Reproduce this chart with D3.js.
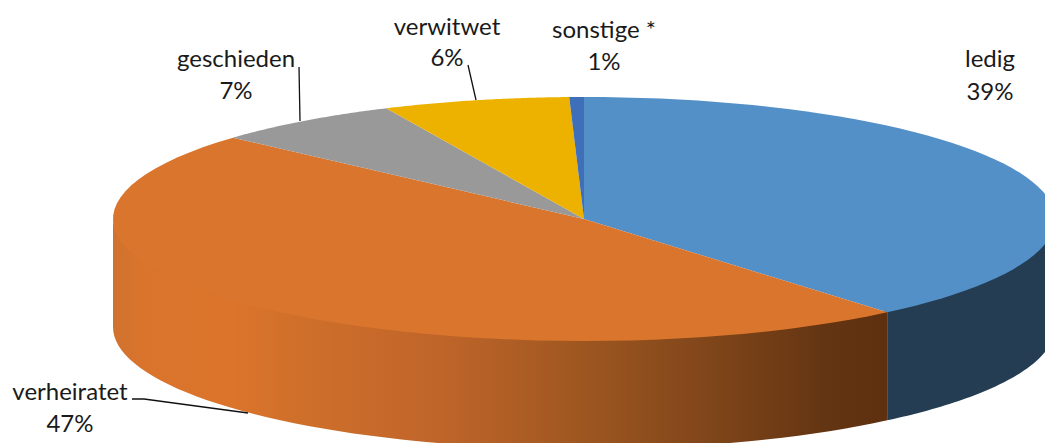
<!DOCTYPE html>
<html><head><meta charset="utf-8">
<script src="https://cdnjs.cloudflare.com/ajax/libs/d3/7.8.5/d3.min.js"></script>
<style>html,body{margin:0;padding:0;background:#fff;overflow:hidden}svg{display:block}text{font-family:Lato,sans-serif;font-size:24px;fill:#1a1a1a}</style>
</head><body><svg id="c" width="1045" height="443"></svg>
<script>
const categories=["ledig","verheiratet","geschieden","verwitwet","sonstige *"];
const shares=[38.87,47.75,6.48,6.4,0.5];
const percentLabels=["39%","47%","7%","6%","1%"];
const topColors=["#5490c8","#da752d","#999999","#edb200","#3f6fb8"];
const wallColors=["#243d53","url(#wall)","#666","#8a6a00","#263f6e"];
const wallStops=[[113,"#d0722f"],[145,"#da742c"],[235,"#dc742b"],[290,"#d0702a"],[436,"#c0652a"],[554,"#a55a22"],[707,"#80461a"],[824,"#643512"],[887,"#5e300f"]];
const labelLayout=[
 {x:990,y:[67,100]},{x:70,y:[400,432]},{x:236,y:[67,99]},{x:447,y:[35,66]},{x:604,y:[38,70]}];
const leaders=[
 null,
 [[132,399],[144,399],[248,413]],
 [[299,67],[300,121]],
 [[468,65],[476,100]],
 null];
const cx=584,cy=219,rx=471,ry=122,depth=108,overlap=1.5;
const svg=d3.select("#c");
const defs=svg.append("defs");
const x0=wallStops[0][0],x1=wallStops[wallStops.length-1][0];
const g=defs.append("linearGradient").attr("id","wall").attr("gradientUnits","userSpaceOnUse")
 .attr("x1",x0).attr("x2",x1).attr("y1",0).attr("y2",0);
g.selectAll("stop").data(wallStops).join("stop")
 .attr("offset",d=>(d[0]-x0)/(x1-x0)).attr("stop-color",d=>d[1]);
const pie=d3.pie().sort(null)(shares);
const px=a=>cx+rx*Math.sin(a), py=a=>cy-ry*Math.cos(a);
const arcPts=(a,b)=>d3.range(0,61).map(i=>a+(b-a)*i/60);
const line=d3.line();
const lo=Math.PI/2, hi=3*Math.PI/2;
pie.forEach((s,i)=>{
 const a=Math.max(s.startAngle,lo), b=Math.min(s.endAngle,hi);
 if(b<=a) return;
 const pts=arcPts(a,b);
 const top=pts.map(t=>[px(t),py(t)-overlap]);
 const bot=pts.slice().reverse().map(t=>[px(t),py(t)+depth]);
 svg.append("path").attr("d",line(top.concat(bot))+"Z").attr("fill",wallColors[i]);
});
pie.forEach((s,i)=>{
 const pts=arcPts(s.startAngle,s.endAngle).map(t=>[px(t),py(t)]);
 svg.append("path").attr("d",line([[cx,cy]].concat(pts))+"Z").attr("fill",topColors[i]);
});
leaders.forEach(l=>{ if(l) svg.append("path").attr("d",line(l)).attr("fill","none").attr("stroke","#111").attr("stroke-width",1.3);});
categories.forEach((c,i)=>{
 const t=svg.append("text").attr("text-anchor","middle");
 t.append("tspan").attr("x",labelLayout[i].x).attr("y",labelLayout[i].y[0]).text(c);
 t.append("tspan").attr("x",labelLayout[i].x).attr("y",labelLayout[i].y[1]).text(percentLabels[i]);
});
</script></body></html>
